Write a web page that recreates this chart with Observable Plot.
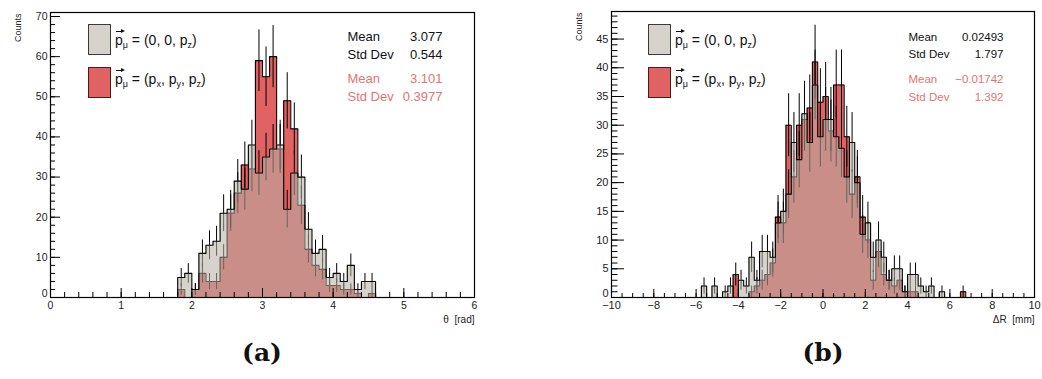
<!DOCTYPE html>
<html>
<head>
<meta charset="utf-8">
<script src="https://cdn.jsdelivr.net/npm/d3@7"></script>
<script src="https://cdn.jsdelivr.net/npm/@observablehq/plot@0.6"></script>
<style>
  body { margin: 0; background: #fff; }
  #root { position: relative; width: 1042px; height: 379px; overflow: hidden; font-family: "Liberation Sans", Arial, sans-serif; background: #fff; }
  .panel { position: absolute; top: 0; }
  .sw { position: absolute; width: 23px; height: 31px; box-sizing: border-box; }
  .lt { position: absolute; font-size: 14px; line-height: 1; white-space: nowrap; color: #111; }
  .lt sub { font-size: 9px; vertical-align: baseline; position: relative; top: 3px; }
  .vec { position: relative; display: inline-block; }
  .arr { position: absolute; left: 1px; top: -2px; width: 6px; height: 1px; background: #111; }
  .arr::after { content: ""; position: absolute; right: -3px; top: -2px; border-left: 4px solid #111; border-top: 2.5px solid transparent; border-bottom: 2.5px solid transparent; }
  .cap { position: absolute; top: 340px; font-family: "DejaVu Serif", serif; font-weight: bold; font-size: 25px; line-height: 1; transform: translateX(-50%); color: #111; }
</style>
</head>
<body>
<div id="root">
  <div class="panel" id="pa" style="left:0px"></div>
  <div class="panel" id="pb" style="left:521px"></div>

  <div class="sw" style="left:88px;top:24px;background:#d6d2cc;border:1px solid #3a3a3a"></div>
  <div class="lt" style="left:115px;top:33px"><span class="vec">p<span class="arr"></span></span><sub>μ</sub> = (0, 0, p<sub>z</sub>)</div>
  <div class="sw" style="left:88px;top:67px;background:#e06262;border:1px solid #4a1a1a"></div>
  <div class="lt" style="left:115px;top:72px"><span class="vec">p<span class="arr"></span></span><sub>μ</sub> = (p<sub>x</sub>, p<sub>y</sub>, p<sub>z</sub>)</div>

  <div class="sw" style="left:648px;top:24px;background:#d6d2cc;border:1px solid #3a3a3a"></div>
  <div class="lt" style="left:675px;top:33px"><span class="vec">p<span class="arr"></span></span><sub>μ</sub> = (0, 0, p<sub>z</sub>)</div>
  <div class="sw" style="left:648px;top:67px;background:#e06262;border:1px solid #4a1a1a"></div>
  <div class="lt" style="left:675px;top:72px"><span class="vec">p<span class="arr"></span></span><sub>μ</sub> = (p<sub>x</sub>, p<sub>y</sub>, p<sub>z</sub>)</div>

  <div class="cap" style="left:262px">(a)</div>
  <div class="cap" style="left:823px">(b)</div>
</div>
<script>
// ---------- data: panel (a) theta ----------
const thetaBins = [1.8,1.9,2.0,2.1,2.2,2.3,2.4,2.5,2.6,2.7,2.8,2.9,3.0,3.1,3.2,3.3,3.4,3.5,3.6,3.7,3.8,3.9,4.0,4.1,4.2,4.3,4.4,4.5];
const thetaBinWidth = 0.1;
const thetaGray = [5,6,2,11,13,14,21,22,29,27,38,31,35,37,38,22,31,30,17,11,12,5,6,4,8,2,4,4];
const thetaRed  = [2,0,2,6,4,4,10,21,26,33,32,59,55,60,37,49,42,23,12,8,7,3,3,2,2,1,0,1];
const thetaXTicks = [0,1,2,3,4,5,6];
const thetaYTicks = [0,10,20,30,40,50,60,70];
const thetaStatsGray = ["3.077","0.544"];
const thetaStatsRed  = ["3.101","0.3977"];

// ---------- data: panel (b) delta R ----------
const dRBins = [-6,-5.75,-5.5,-5.25,-5,-4.75,-4.5,-4.25,-4,-3.75,-3.5,-3.25,-3,-2.75,-2.5,-2.25,-2,-1.75,-1.5,-1.25,-1,-0.75,-0.5,-0.25,0,0.25,0.5,0.75,1,1.25,1.5,1.75,2,2.25,2.5,2.75,3,3.25,3.5,3.75,4,4.25,4.5,4.75,5,5.25,5.5,5.75,6,6.25,6.5,6.75];
const dRBinWidth = 0.25;
const dRGray = [0,2,0,2,0,1,2,0,3,2,7,3,8,8,7,13,15,18,27,24,32,27,37,28,31,31,28,26,21,27,20,11,13,7,10,7,3,5,5,1,4,4,2,1,2,0,1,0,0,0,0,0];
const dRRed  = [0,0,0,0,0,0,0,4,0,0,1,2,3,4,6,14,13,30,21,30,31,33,41,34,35,29,37,37,28,18,21,14,10,3,8,4,3,2,3,1,1,1,0,0,0,0,0,0,0,0,1,0];
const dRXTicks = [-10,-8,-6,-4,-2,0,2,4,6,8,10];
const dRYTicks = [0,5,10,15,20,25,30,35,40,45];
const dRStatsGray = ["0.02493","1.797"];
const dRStatsRed  = ["\u22120.01742","1.392"];

const statLabels = ["Mean","Std Dev"];
const axisTitles = {countsA: "Counts", countsB: "Counts", thetaX: "\u03b8  [rad]", dRX: "\u0394R  [mm]"};

// ---------- helpers ----------
const H = 330;
const RED = "#e06262";
function stepArea(bins, w, vals) {
  const p = bins.map((b, i) => ({x: b, y: vals[i]}));
  p.push({x: bins[bins.length - 1] + w, y: vals[vals.length - 1]});
  return p;
}
function stepLine(bins, w, vals) {
  return [{x: bins[0], y: 0}, ...stepArea(bins, w, vals), {x: bins[bins.length - 1] + w, y: 0}];
}
function errBars(bins, w, vals) {
  return bins.map((b, i) => ({x: b + w / 2, v: vals[i]}))
    .filter(d => d.v > 0)
    .map(d => ({x: d.x, y1: d.v - Math.sqrt(d.v), y2: d.v + Math.sqrt(d.v)}));
}
const fmt = d => d < 0 ? "\u2212" + (-d) : String(d);

function makePanel(o) {
  const fw = o.width - o.ml - o.mr, fh = H - o.mt - o.mb;
  const marks = [
    Plot.areaY(stepArea(o.bins, o.w, o.red), {x: "x", y: "y", curve: "step-after", fill: RED}),
    Plot.lineY(stepLine(o.bins, o.w, o.red), {x: "x", y: "y", curve: "step-after", stroke: "#000", strokeWidth: 1.1}),
    Plot.ruleX(errBars(o.bins, o.w, o.red), {x: "x", y1: "y1", y2: "y2", stroke: "#000", strokeWidth: 1}),
    Plot.ruleX(errBars(o.bins, o.w, o.gray), {x: "x", y1: "y1", y2: "y2", stroke: "#000", strokeWidth: 1}),
    Plot.areaY(stepArea(o.bins, o.w, o.gray), {x: "x", y: "y", curve: "step-after", fill: "#b7b0a5", fillOpacity: 0.57}),
    Plot.lineY(stepLine(o.bins, o.w, o.gray), {x: "x", y: "y", curve: "step-after", stroke: "#000", strokeWidth: 1.1}),
    Plot.ruleX(o.xMinor, {x: d => d, insetTop: fh - o.xMinLen, stroke: "#000"}),
    Plot.ruleX(o.xTicks, {x: d => d, insetTop: fh - o.xMajLen, stroke: "#000"}),
    Plot.ruleY(o.yMinor, {y: d => d, insetRight: fw - o.yMinLen, stroke: "#000"}),
    Plot.ruleY(o.yTicks, {y: d => d, insetRight: fw - o.yMajLen, stroke: "#000"}),
    Plot.frame({stroke: "#000", strokeWidth: 1.2}),
    Plot.axisX({ticks: o.xTicks, tickSize: 0, tickPadding: 4, tickFormat: fmt, label: null, fontSize: o.tickFont, fill: "#222"}),
    Plot.axisY({ticks: o.yTicks.filter(t => t !== 0), tickSize: 0, tickPadding: 3, tickFormat: fmt, label: null, fontSize: o.tickFont, fill: "#222"}),
    Plot.axisY({ticks: [0], tickSize: 0, tickPadding: 3, dy: -4, tickFormat: fmt, label: null, fontSize: o.tickFont, fill: "#222"}),
    Plot.text([o.yTitle], {text: d => d, frameAnchor: "top-left", rotate: -90, textAnchor: "end", dx: o.yTitleDx, dy: 1, fontSize: 9, fill: "#222"}),
    Plot.text([o.xTitle], {text: d => d, frameAnchor: "bottom-right", textAnchor: "end", dy: 25, fontSize: 10, fill: "#222"})
  ];
  const rows = [[statLabels[0], o.statsGray[0], "#111"], [statLabels[1], o.statsGray[1], "#111"],
                [statLabels[0], o.statsRed[0], "#e57373"], [statLabels[1], o.statsRed[1], "#e57373"]];
  rows.forEach((r, i) => {
    marks.push(Plot.text([r[0]], {text: d => d, frameAnchor: "top-left", textAnchor: "start", dx: o.sLx, dy: o.rowDy[i], fill: r[2], fontSize: o.sFont}));
    marks.push(Plot.text([r[1]], {text: d => d, frameAnchor: "top-right", textAnchor: "end", dx: o.sRx, dy: o.rowDy[i], fill: r[2], fontSize: o.sFont}));
  });
  return Plot.plot({
    width: o.width, height: H,
    marginLeft: o.ml, marginRight: o.mr, marginTop: o.mt, marginBottom: o.mb,
    x: {domain: o.xDomain},
    y: {domain: o.yDomain},
    style: {fontFamily: "'Liberation Sans', Arial, sans-serif", fontSize: "11px", background: "white", overflow: "visible"},
    marks
  });
}

document.getElementById("pa").appendChild(makePanel({
  bins: thetaBins, w: thetaBinWidth, gray: thetaGray, red: thetaRed,
  width: 521, ml: 50, mr: 47, mt: 12, mb: 33,
  xDomain: [0, 6], yDomain: [0, 71],
  xTicks: thetaXTicks, xMinor: d3.range(0, 6.001, 0.2), yTicks: thetaYTicks, yMinor: d3.range(0, 71, 2),
  xMajLen: 9, xMinLen: 5, yMajLen: 10, yMinLen: 5, tickFont: 10.5,
  yTitle: axisTitles.countsA, yTitleDx: -36, xTitle: axisTitles.thetaX,
  statsGray: thetaStatsGray, statsRed: thetaStatsRed, sFont: 13, sLx: 297, sRx: -32,
  rowDy: [19.7, 37.5, 61.3, 79.3]
}));

document.getElementById("pb").appendChild(makePanel({
  bins: dRBins, w: dRBinWidth, gray: dRGray, red: dRRed,
  width: 521, ml: 90, mr: 8, mt: 11, mb: 33,
  xDomain: [-10, 10], yDomain: [0, 49.8],
  xTicks: dRXTicks, xMinor: d3.range(-10, 10.001, 0.5), yTicks: dRYTicks, yMinor: d3.range(0, 50, 1),
  xMajLen: 8, xMinLen: 4, yMajLen: 13, yMinLen: 6.5, tickFont: 11,
  yTitle: axisTitles.countsB, yTitleDx: -36, xTitle: axisTitles.dRX,
  statsGray: dRStatsGray, statsRed: dRStatsRed, sFont: 11.5, sLx: 297, sRx: -31,
  rowDy: [21.5, 38.5, 63, 81]
}));
</script>
</body>
</html>
